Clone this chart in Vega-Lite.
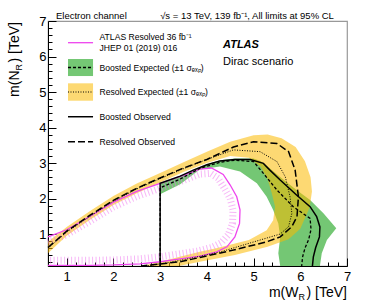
{
  "$schema": "https://vega.github.io/schema/vega-lite/v6.json",
  "width": 299,
  "height": 245,
  "autosize": "none",
  "padding": {"left": 48, "top": 21, "right": 27, "bottom": 41},
  "config": {
    "view": {"stroke": "#999", "strokeWidth": 1.2},
    "font": "Liberation Sans",
    "axis": {"domainColor": "#000", "tickColor": "#000", "labelColor": "#000", "labelFont": "Liberation Sans", "labelFontSize": 13, "grid": false, "title": null, "labelFlush": false, "labelOverlap": false, "labelBound": false}
  },
  "encoding": {
    "x": {"field": "x", "type": "quantitative", "scale": {"domain": [0.6, 7], "nice": false, "zero": false},
      "axis": {"values": [0.6,0.8,1,1.2,1.4,1.6,1.8,2,2.2,2.4,2.6,2.8,3,3.2,3.4,3.6,3.8,4,4.2,4.4,4.6,4.8,5,5.2,5.4,5.6,5.8,6,6.2,6.4,6.6,6.8,7],
        "labelExpr": "datum.value == round(datum.value) ? format(datum.value, 'd') : ''",
        "tickSize": {"condition": {"test": "datum.value == round(datum.value)", "value": -8}, "value": -4},
        "labelPadding": 12}},
    "y": {"field": "y", "type": "quantitative", "scale": {"domain": [0.1, 7], "nice": false, "zero": false},
      "axis": {"values": [0.2,0.4,0.6,0.8,1,1.2,1.4,1.6,1.8,2,2.2,2.4,2.6,2.8,3,3.2,3.4,3.6,3.8,4,4.2,4.4,4.6,4.8,5,5.2,5.4,5.6,5.8,6,6.2,6.4,6.6,6.8,7],
        "labelExpr": "datum.value == round(datum.value) ? format(datum.value, 'd') : ''",
        "tickSize": {"condition": {"test": "datum.value == round(datum.value)", "value": -8}, "value": -4},
        "labelPadding": 10}}
  },
  "datasets": {
    "gband": [
      {"x":3.0,"y":2.43},{"x":3.2,"y":2.52},{"x":3.43,"y":2.63},{"x":3.71,"y":2.8},{"x":4.0,"y":2.96},{"x":4.28,"y":3.08},{"x":4.6,"y":3.13},{"x":5.0,"y":3.13},{"x":5.15,"y":3.06},{"x":5.3,"y":2.9},{"x":5.57,"y":2.61},{"x":5.92,"y":2.24},{"x":6.21,"y":1.96},{"x":6.5,"y":1.58},{"x":6.77,"y":1.16},{"x":6.57,"y":0.83},{"x":6.46,"y":0.46},{"x":6.42,"y":0.1},
      {"x":5.57,"y":0.1},{"x":5.53,"y":0.46},{"x":5.57,"y":0.92},{"x":5.53,"y":1.3},{"x":5.42,"y":1.68},{"x":5.28,"y":2.05},{"x":5.07,"y":2.43},{"x":4.71,"y":2.76},{"x":4.28,"y":2.9},{"x":3.85,"y":2.82},{"x":3.43,"y":2.4},{"x":3.0,"y":2.12}
    ],
    "yband": [
      {"x":0.6,"y":0.78},{"x":1.0,"y":1.2},{"x":1.5,"y":1.65},{"x":2.0,"y":2.07},{"x":2.5,"y":2.42},{"x":3.0,"y":2.72},{"x":3.5,"y":3.02},{"x":4.0,"y":3.32},{"x":4.5,"y":3.6},{"x":5.0,"y":3.78},{"x":5.3,"y":3.8},{"x":5.6,"y":3.7},{"x":5.9,"y":3.45},{"x":6.1,"y":3.05},{"x":6.22,"y":2.6},{"x":6.25,"y":2.2},{"x":6.2,"y":1.75},{"x":6.0,"y":1.15},{"x":5.75,"y":0.85},{"x":5.3,"y":0.64},{"x":4.6,"y":0.41},{"x":3.85,"y":0.22},{"x":3.4,"y":0.1},
      {"x":2.6,"y":0.1},{"x":3.0,"y":0.22},{"x":3.4,"y":0.35},{"x":3.85,"y":0.5},{"x":4.2,"y":0.6},{"x":4.9,"y":0.83},{"x":5.28,"y":1.11},{"x":5.42,"y":1.39},{"x":5.46,"y":1.77},{"x":5.39,"y":2.15},{"x":5.3,"y":2.55},{"x":5.15,"y":2.9},{"x":4.9,"y":3.15},{"x":4.5,"y":3.2},{"x":4.0,"y":3.0},{"x":3.5,"y":2.75},{"x":3.0,"y":2.45},{"x":2.5,"y":2.15},{"x":2.0,"y":1.82},{"x":1.5,"y":1.4},{"x":1.0,"y":0.95},{"x":0.6,"y":0.46}
    ],
    "legbox_g": [{"x":1.028,"x2":1.564,"y":5.45,"y2":5.93}],
    "legbox_y": [{"x":1.028,"x2":1.564,"y":4.755,"y2":5.245}],
    "hatch": [
      {"x":0.6,"y":0.78},{"x":1.0,"y":0.98},{"x":1.5,"y":1.36},{"x":2.0,"y":1.76},{"x":2.5,"y":2.06},{"x":3.0,"y":2.29},{"x":3.5,"y":2.51},{"x":3.85,"y":2.69},{"x":4.08,"y":2.71},{"x":4.24,"y":2.57},{"x":4.37,"y":2.3},{"x":4.5,"y":2.0},{"x":4.56,"y":1.68},{"x":4.55,"y":1.3},{"x":4.46,"y":0.98},{"x":4.3,"y":0.75},{"x":4.12,"y":0.63},{"x":3.8,"y":0.52},{"x":3.4,"y":0.44},{"x":3.0,"y":0.36},{"x":2.55,"y":0.3},{"x":2.0,"y":0.27},{"x":1.5,"y":0.26},{"x":1.0,"y":0.26},{"x":0.6,"y":0.26}
    ],
    "pink": [
      {"g":"c","x":0.6,"y":0.92},{"g":"c","x":1.0,"y":1.12},{"g":"c","x":1.5,"y":1.5},{"g":"c","x":2.0,"y":1.9},{"g":"c","x":2.5,"y":2.2},{"g":"c","x":3.0,"y":2.43},{"g":"c","x":3.5,"y":2.65},{"g":"c","x":3.85,"y":2.83},{"g":"c","x":4.1,"y":2.86},{"g":"c","x":4.35,"y":2.68},{"g":"c","x":4.5,"y":2.38},{"g":"c","x":4.64,"y":2.05},{"g":"c","x":4.71,"y":1.68},{"g":"c","x":4.7,"y":1.3},{"g":"c","x":4.6,"y":0.92},{"g":"c","x":4.43,"y":0.64},{"g":"c","x":4.21,"y":0.5},{"g":"c","x":3.85,"y":0.38},{"g":"c","x":3.43,"y":0.3},{"g":"c","x":3.0,"y":0.22},{"g":"c","x":2.57,"y":0.16},{"g":"c","x":2.0,"y":0.13},{"g":"c","x":1.5,"y":0.12},{"g":"c","x":1.0,"y":0.12},{"g":"c","x":0.6,"y":0.12},
      {"g":"l","x":1.028,"y":6.389},{"g":"l","x":1.564,"y":6.389}
    ],
    "robs": [
      {"g":"c","x":0.6,"y":0.62},{"g":"c","x":1.0,"y":1.08},{"g":"c","x":1.5,"y":1.53},{"g":"c","x":2.0,"y":1.95},{"g":"c","x":2.5,"y":2.29},{"g":"c","x":3.0,"y":2.58},{"g":"c","x":3.5,"y":2.86},{"g":"c","x":4.0,"y":3.1},{"g":"c","x":4.57,"y":3.45},{"g":"c","x":5.0,"y":3.6},{"g":"c","x":5.5,"y":3.55},{"g":"c","x":5.75,"y":3.32},{"g":"c","x":5.89,"y":2.8},{"g":"c","x":5.96,"y":2.05},{"g":"c","x":5.93,"y":1.49},{"g":"c","x":5.82,"y":1.21},{"g":"c","x":5.57,"y":0.92},{"g":"c","x":5.28,"y":0.78},{"g":"c","x":4.57,"y":0.55},{"g":"c","x":3.85,"y":0.34},{"g":"c","x":3.43,"y":0.22},{"g":"c","x":2.6,"y":0.1},
      {"g":"l","x":1.028,"y":3.6},{"g":"l","x":1.564,"y":3.6}
    ],
    "rexp": [
      {"g":"c","x":0.6,"y":0.6},{"g":"c","x":1.0,"y":1.06},{"g":"c","x":1.5,"y":1.5},{"g":"c","x":2.0,"y":1.93},{"g":"c","x":2.5,"y":2.27},{"g":"c","x":3.0,"y":2.56},{"g":"c","x":3.5,"y":2.84},{"g":"c","x":4.0,"y":3.1},{"g":"c","x":4.57,"y":3.37},{"g":"c","x":5.14,"y":3.32},{"g":"c","x":5.5,"y":3.04},{"g":"c","x":5.68,"y":2.61},{"g":"c","x":5.78,"y":2.05},{"g":"c","x":5.82,"y":1.58},{"g":"c","x":5.75,"y":1.21},{"g":"c","x":5.57,"y":1.0},{"g":"c","x":4.93,"y":0.75},{"g":"c","x":4.3,"y":0.5},{"g":"c","x":3.7,"y":0.33},{"g":"c","x":3.2,"y":0.2},{"g":"c","x":2.7,"y":0.1},
      {"g":"l","x":1.028,"y":5.0},{"g":"l","x":1.564,"y":5.0}
    ],
    "bexp": [
      {"g":"c","x":3.0,"y":0.1},{"g":"c","x":3.0,"y":2.3},{"g":"c","x":3.43,"y":2.55},{"g":"c","x":3.85,"y":2.85},{"g":"c","x":4.28,"y":3.02},{"g":"c","x":4.6,"y":3.08},{"g":"c","x":5.0,"y":3.04},{"g":"c","x":5.21,"y":2.71},{"g":"c","x":5.5,"y":2.24},{"g":"c","x":5.85,"y":1.77},{"g":"c","x":6.21,"y":1.44},{"g":"c","x":6.23,"y":1.13},{"g":"c","x":6.18,"y":0.85},{"g":"c","x":6.1,"y":0.6},{"g":"c","x":6.05,"y":0.36},{"g":"c","x":6.03,"y":0.1},
      {"g":"l","x":1.028,"y":5.69},{"g":"l","x":1.564,"y":5.69}
    ],
    "bobs": [
      {"g":"c","x":3.0,"y":0.1},{"g":"c","x":3.0,"y":2.43},{"g":"c","x":3.2,"y":2.52},{"g":"c","x":3.43,"y":2.63},{"g":"c","x":3.71,"y":2.8},{"g":"c","x":4.0,"y":2.95},{"g":"c","x":4.28,"y":3.06},{"g":"c","x":4.6,"y":3.1},{"g":"c","x":4.93,"y":3.1},{"g":"c","x":5.21,"y":2.99},{"g":"c","x":5.35,"y":2.8},{"g":"c","x":5.57,"y":2.52},{"g":"c","x":5.92,"y":2.1},{"g":"c","x":6.21,"y":1.77},{"g":"c","x":6.35,"y":1.49},{"g":"c","x":6.42,"y":1.2},{"g":"c","x":6.41,"y":0.92},{"g":"c","x":6.33,"y":0.62},{"g":"c","x":6.28,"y":0.36},{"g":"c","x":6.26,"y":0.1},
      {"g":"l","x":1.028,"y":4.304},{"g":"l","x":1.564,"y":4.304}
    ],
    "legtext": [
      {"x":1.703,"y":6.54,"t":"ATLAS Resolved 36 fb⁻¹"},
      {"x":1.703,"y":6.248,"t":"JHEP 01 (2019) 016"},
      {"x":1.703,"y":5.69,"t":"Boosted Expected (±1 σₑₓₚ)"},
      {"x":1.703,"y":5.0,"t":"Resolved Expected (±1 σₑₓₚ)"},
      {"x":1.703,"y":4.304,"t":"Boosted Observed"},
      {"x":1.703,"y":3.6,"t":"Resolved Observed"}
    ],
    "toptext": [
      {"x":0.771,"y":7.14,"t":"Electron channel"},
      {"x":3.0,"y":7.14,"t":"√s = 13 TeV, 139 fb⁻¹, All limits at 95% CL"}
    ],
    "atlas": [{"x":4.347,"y":6.324,"t":"ATLAS"}],
    "dirac": [{"x":4.347,"y":5.845,"t":"Dirac scenario"}],
    "xtitle": [{"x":7.0,"y":-0.766,"t":") [TeV]"},{"x":5.961,"y":-0.766,"t":"m(W"}],
    "xsub": [{"x":6.1,"y":-0.86,"t":"R"}],
    "ytitle": [{"x":-0.021,"y":6.97,"t":") [TeV]"},{"x":-0.021,"y":5.606,"t":"m(N"}],
    "ysub": [{"x":0.043,"y":5.79,"t":"R"}]
  },
  "layer": [
    {"data": {"name": "gband"}, "mark": {"type": "line", "fill": "#74c774", "stroke": null, "strokeWidth": 0}, "encoding": {"order": {"value": null}}},
    {"data": {"name": "yband"}, "mark": {"type": "line", "fill": "#fcb900", "fillOpacity": 0.55, "stroke": null, "strokeWidth": 0}, "encoding": {"order": {"value": null}}},
    {"data": {"name": "legbox_g"}, "mark": {"type": "rect", "color": "#74c774"}, "encoding": {"x2": {"field": "x2"}, "y2": {"field": "y2"}}},
    {"data": {"name": "legbox_y"}, "mark": {"type": "rect", "color": "#fdd973"}, "encoding": {"x2": {"field": "x2"}, "y2": {"field": "y2"}}},
    {"data": {"name": "hatch"}, "mark": {"type": "line", "color": "#f070f0", "strokeWidth": 7, "strokeDash": [1, 2.5], "opacity": 0.5}, "encoding": {"order": {"value": null}}},
    {"data": {"name": "pink"}, "mark": {"type": "line", "color": "#ee44ee", "strokeWidth": 1.3}, "encoding": {"order": {"value": null}, "detail": {"field": "g"}}},
    {"data": {"name": "robs"}, "mark": {"type": "line", "color": "#000", "strokeWidth": 1.5, "strokeDash": [7, 3]}, "encoding": {"order": {"value": null}, "detail": {"field": "g"}}},
    {"data": {"name": "rexp"}, "mark": {"type": "line", "color": "#000", "strokeWidth": 1, "strokeDash": [1, 1.5]}, "encoding": {"order": {"value": null}, "detail": {"field": "g"}}},
    {"data": {"name": "bexp"}, "mark": {"type": "line", "color": "#000", "strokeWidth": 1.3, "strokeDash": [3, 2]}, "encoding": {"order": {"value": null}, "detail": {"field": "g"}}},
    {"data": {"name": "bobs"}, "mark": {"type": "line", "color": "#000", "strokeWidth": 1.5}, "encoding": {"order": {"value": null}, "detail": {"field": "g"}}},
    {"data": {"name": "legtext"}, "mark": {"type": "text", "align": "left", "baseline": "middle", "fontSize": 8.6, "font": "Liberation Sans", "color": "#000"}, "encoding": {"text": {"field": "t"}}},
    {"data": {"name": "toptext"}, "mark": {"type": "text", "align": "left", "baseline": "middle", "fontSize": 9.5, "font": "Liberation Sans", "color": "#000"}, "encoding": {"text": {"field": "t"}}},
    {"data": {"name": "atlas"}, "mark": {"type": "text", "align": "left", "baseline": "middle", "fontSize": 11, "fontWeight": "bold", "fontStyle": "italic", "font": "Liberation Sans", "color": "#000"}, "encoding": {"text": {"field": "t"}}},
    {"data": {"name": "dirac"}, "mark": {"type": "text", "align": "left", "baseline": "middle", "fontSize": 11, "font": "Liberation Sans", "color": "#000"}, "encoding": {"text": {"field": "t"}}},
    {"data": {"name": "xtitle"}, "mark": {"type": "text", "align": "right", "baseline": "alphabetic", "fontSize": 14, "font": "Liberation Sans", "color": "#000"}, "encoding": {"text": {"field": "t"}}},
    {"data": {"name": "xsub"}, "mark": {"type": "text", "align": "right", "baseline": "alphabetic", "fontSize": 9, "font": "Liberation Sans", "color": "#000"}, "encoding": {"text": {"field": "t"}}},
    {"data": {"name": "ytitle"}, "mark": {"type": "text", "align": "right", "baseline": "alphabetic", "angle": 270, "fontSize": 14, "font": "Liberation Sans", "color": "#000"}, "encoding": {"text": {"field": "t"}}},
    {"data": {"name": "ysub"}, "mark": {"type": "text", "align": "right", "baseline": "alphabetic", "angle": 270, "fontSize": 9, "font": "Liberation Sans", "color": "#000"}, "encoding": {"text": {"field": "t"}}}
  ]
}
